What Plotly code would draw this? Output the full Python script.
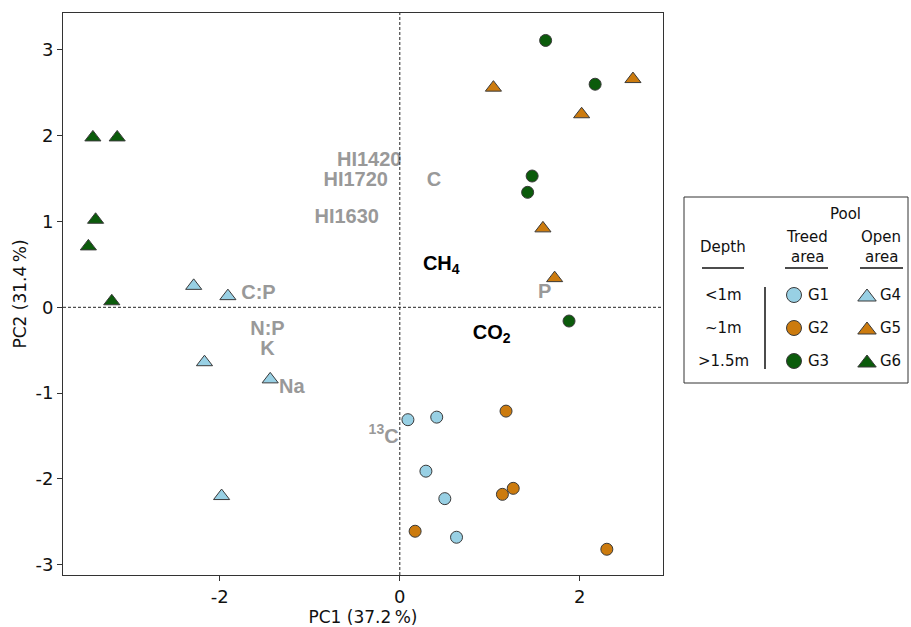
import plotly.graph_objects as go

# ---------------- data (PCA scores) ----------------
g1_pc1 = [0.09, 0.41, 0.29, 0.50, 0.63]
g1_pc2 = [-1.31, -1.28, -1.91, -2.23, -2.68]
g2_pc1 = [1.18, 1.26, 1.14, 0.17, 2.30]
g2_pc2 = [-1.21, -2.11, -2.18, -2.61, -2.82]
g3_pc1 = [1.62, 2.17, 1.47, 1.42, 1.88]
g3_pc2 = [3.11, 2.60, 1.53, 1.34, -0.16]
g4_pc1 = [-2.29, -1.91, -2.17, -1.44, -1.98]
g4_pc2 = [0.25, 0.13, -0.64, -0.84, -2.20]
g5_pc1 = [1.04, 2.59, 2.02, 1.59, 1.72]
g5_pc2 = [2.56, 2.66, 2.25, 0.92, 0.34]
g6_pc1 = [-3.41, -3.14, -3.38, -3.46, -3.20]
g6_pc2 = [1.98, 1.98, 1.02, 0.71, 0.07]

# variable labels (loadings)
var_names = ["HI1420", "HI1720", "C", "HI1630", "CH<sub>4</sub>", "P", "C:P",
             "N:P", "K", "Na", "CO<sub>2</sub>", "<sup>13</sup>C"]
var_pc1 = [-0.34, -0.49, 0.38, -0.59, 0.46, 1.61, -1.57, -1.47, -1.47, -1.20, 1.02, -0.18]
var_pc2 = [1.71, 1.47, 1.47, 1.04, 0.49, 0.17, 0.15, -0.27, -0.50, -0.94, -0.31, -1.52]
var_is_gas = [False, False, False, False, True, False, False, False, False, False, True, False]

x_ticks = [-2, 0, 2]
x_ticktext = ["-2", "0", "2"]
y_ticks = [-3, -2, -1, 0, 1, 2, 3]
y_ticktext = ["-3", "-2", "-1", "0", "1", "2", "3"]

group_names = ["G1", "G2", "G3", "G4", "G5", "G6"]
depth_labels = ["<1m", "~1m", ">1.5m"]

# ---------------- styles ----------------
LIGHTBLUE = "#98d0e4"
ORANGE = "#cc7b0e"
DGREEN = "#0b5b0b"
OUTLINE = "#3a3a3a"
GRAY = "#999999"
TICKFONT = "DejaVu Sans"
LABFONT = "Liberation Sans, Arial"

series = [
    (g1_pc1, g1_pc2, "circle", LIGHTBLUE, 12),
    (g2_pc1, g2_pc2, "circle", ORANGE, 12),
    (g3_pc1, g3_pc2, "circle", DGREEN, 12),
    (g4_pc1, g4_pc2, "triangle-up", LIGHTBLUE, 14),
    (g5_pc1, g5_pc2, "triangle-up", ORANGE, 14),
    (g6_pc1, g6_pc2, "triangle-up", DGREEN, 14),
]

fig = go.Figure()

for (xs, ys, sym, col, sz), name in zip(series, group_names):
    fig.add_trace(go.Scatter(
        x=xs, y=ys, mode="markers", name=name, showlegend=False,
        marker=dict(symbol=sym, color=col, size=sz,
                    line=dict(color=OUTLINE, width=1)),
        cliponaxis=False, hoverinfo="skip"))

fig.add_trace(go.Scatter(
    x=var_pc1, y=var_pc2, mode="text", text=var_names, showlegend=False,
    textposition="middle center",
    textfont=dict(family=LABFONT, size=20, weight="bold",
                  color=["#000000" if g else GRAY for g in var_is_gas]),
    cliponaxis=False, hoverinfo="skip"))

# dashed zero lines
fig.add_shape(type="line", xref="x", yref="y domain", x0=0, x1=0, y0=0, y1=1,
              line=dict(color="#222222", width=1, dash="3px,2px"))
fig.add_shape(type="line", xref="x domain", yref="y", x0=0, x1=1, y0=0, y1=0,
              line=dict(color="#222222", width=1, dash="3px,2px"))

# ---------------- custom legend (in a pixel-like helper axis) ----------------
LX = dict(box0=684, box1=908, depth=723, vline=765, circ=794, circ_lab=806,
          tri=867, tri_lab=878, treed=807, open=881)
LY = dict(top=197, bottom=383, pool=214, head1=237, head2=257, uline=268,
          rows=[295, 328, 361])

fig.add_shape(type="rect", xref="x2", yref="y2", x0=LX["box0"], x1=LX["box1"],
              y0=LY["top"], y1=LY["bottom"], line=dict(color="#333333", width=1))
for xa, xb in [(702, 744), (785, 828), (860, 903)]:
    fig.add_shape(type="line", xref="x2", yref="y2", x0=xa, x1=xb,
                  y0=LY["uline"], y1=LY["uline"], line=dict(color="#111111", width=1.5))
fig.add_shape(type="line", xref="x2", yref="y2", x0=LX["vline"], x1=LX["vline"],
              y0=287, y1=369, line=dict(color="#111111", width=1.5))

legfont = dict(family=TICKFONT, size=15, color="#111111")


def ann(x, y, t, xanchor="center"):
    fig.add_annotation(x=x, y=y, xref="x2", yref="y2", text=t, showarrow=False,
                       xanchor=xanchor, yanchor="middle", font=legfont)


ann(845, LY["pool"], "Pool")
ann(LX["depth"], 247, "Depth")
ann(LX["treed"], LY["head1"], "Treed")
ann(LX["treed"], LY["head2"], "area")
ann(LX["open"], LY["head1"], "Open")
ann(LX["open"], LY["head2"], "area")
for i, d in enumerate(depth_labels):
    ann(LX["depth"], LY["rows"][i], d)
    ann(LX["circ_lab"], LY["rows"][i], group_names[i], "left")
    ann(LX["tri_lab"], LY["rows"][i], group_names[i + 3], "left")

for i in range(3):
    _, _, _, col, _ = series[i]
    fig.add_trace(go.Scatter(
        x=[LX["circ"]], y=[LY["rows"][i]], xaxis="x2", yaxis="y2", mode="markers",
        showlegend=False, hoverinfo="skip",
        marker=dict(symbol="circle", color=col, size=15, line=dict(color=OUTLINE, width=1))))
    fig.add_trace(go.Scatter(
        x=[LX["tri"]], y=[LY["rows"][i] + 2], xaxis="x2", yaxis="y2", mode="markers",
        showlegend=False, hoverinfo="skip",
        marker=dict(symbol="triangle-up", color=col, size=16, line=dict(color=OUTLINE, width=1))))

axis_common = dict(showgrid=False, zeroline=False, showline=True, mirror=True,
                   linecolor="#333333", linewidth=1, ticks="outside", ticklen=5,
                   tickcolor="#333333", tickfont=dict(family=TICKFONT, size=18, color="#111111"))

fig.update_layout(
    width=911, height=627,
    margin=dict(l=63, r=0, t=13, b=52),
    paper_bgcolor="white", plot_bgcolor="white",
    xaxis=dict(domain=[0, 600 / 848], range=[-3.742, 2.924], tickvals=x_ticks,
               ticktext=x_ticktext,
               title=dict(text="PC1 (37.2\u2009%)", standoff=6,
                          font=dict(family=TICKFONT, size=17, color="#111111")),
               **axis_common),
    yaxis=dict(range=[-3.12, 3.43], tickvals=y_ticks, ticktext=y_ticktext,
               title=dict(text="PC2 (31.4\u2009%)", standoff=4,
                          font=dict(family=TICKFONT, size=17, color="#111111")),
               **axis_common),
    xaxis2=dict(domain=[620 / 848, 1], range=[683, 911], visible=False, fixedrange=True,
                anchor="y2"),
    yaxis2=dict(domain=[0, 1], range=[575, 13], visible=False, fixedrange=True,
                anchor="x2"),
    showlegend=False,
)

fig.write_html("out.html")
